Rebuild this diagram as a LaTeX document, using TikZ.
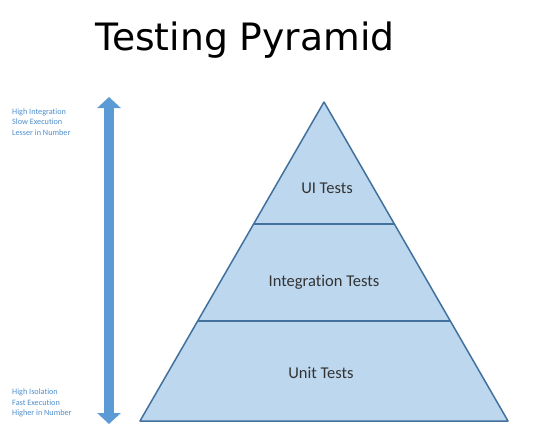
\documentclass[tikz,border=0pt]{standalone}
\usepackage{fontspec}
\setmainfont{Carlito}[Ligatures=NoCommon]
\newfontfamily\titlefont{DejaVu Sans}
\usetikzlibrary{arrows.meta,calc}
\definecolor{pyrfill}{HTML}{BDD7EE}
\definecolor{pyredge}{HTML}{41719C}
\definecolor{arrowblue}{HTML}{5B9BD5}
\definecolor{sidetext}{HTML}{4F8FCC}
\definecolor{layertext}{HTML}{333333}
\begin{document}
\begin{tikzpicture}[x=1pt,y=-1pt,
  layer/.style={fill=pyrfill,draw=pyredge,line width=1.5pt,line join=round},
  divider/.style={draw=pyredge,line width=1.5pt},
  layerlabel/.style={font=\fontsize{16.5}{18}\selectfont,text=layertext,inner sep=0pt},
  sidelabel/.style={font=\fontsize{8.2}{10.2}\selectfont,text=sidetext,align=left,anchor=west,inner sep=0pt},
  bigarrow/.style={draw=arrowblue,line width=9.5pt,{Triangle[width=23pt,length=11pt]}-{Triangle[width=23pt,length=11pt]}}
]
\useasboundingbox[fill=white] (0,0) rectangle (543,431);
% title
\node[font=\titlefont\fontsize{37.7}{42}\selectfont,anchor=base,inner sep=0pt] (title) at (245,50) {Testing Pyramid};
% pyramid coordinates
\coordinate (apex) at (324,102);
\coordinate (bl) at (140,421);
\coordinate (br) at (508,421);
\coordinate (l1) at ($(apex)!0.3824!(bl)$);
\coordinate (r1) at ($(apex)!0.3824!(br)$);
\coordinate (l2) at ($(apex)!0.6865!(bl)$);
\coordinate (r2) at ($(apex)!0.6865!(br)$);
\path[layer] (apex) -- (bl) -- (br) -- cycle;
\draw[divider] (l1) -- (r1);
\draw[divider] (l2) -- (r2);
% labels
\node[layerlabel] (ui) at (327,188) {UI Tests};
\node[layerlabel] (integ) at (324,282) {Integration Tests};
\node[layerlabel] (unit) at (321,373) {Unit Tests};
% side arrow
\coordinate (atop) at (109,97);
\coordinate (abot) at (109,424);
\draw[bigarrow] (abot) -- (atop);
% side labels
\node[sidelabel] (toplbl) at (12,122) {High Integration\\Slow Execution\\Lesser in Number};
\node[sidelabel] (botlbl) at (12,403) {High Isolation\\Fast Execution\\Higher in Number};
\end{tikzpicture}
\end{document}
